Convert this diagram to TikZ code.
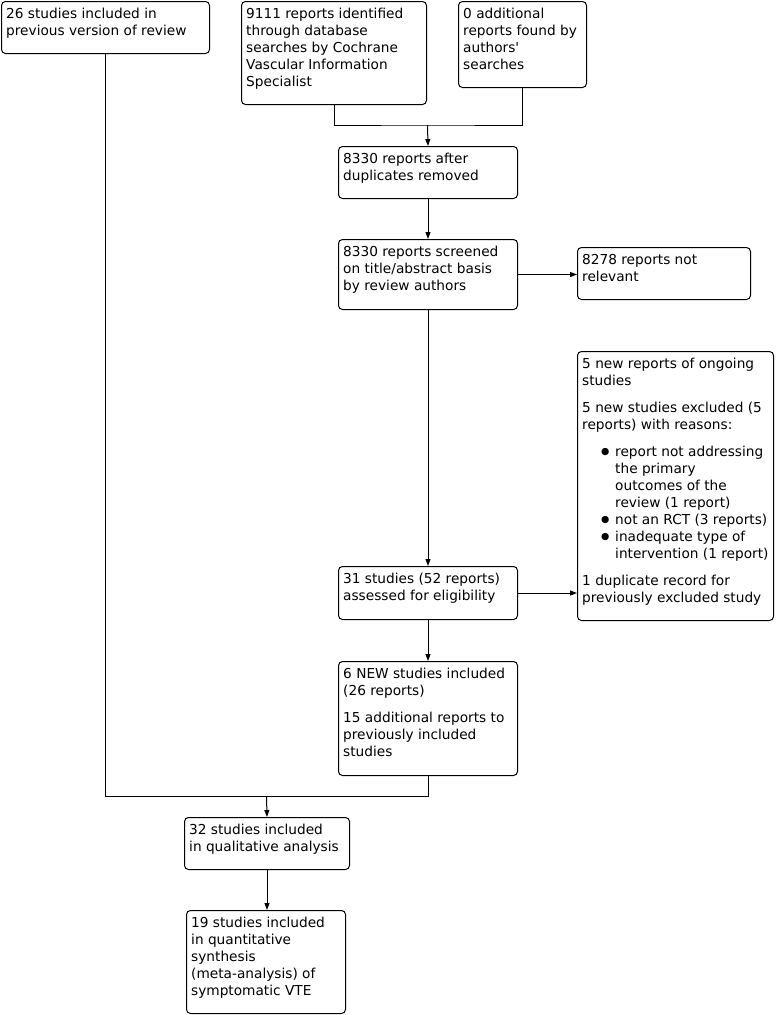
\documentclass[tikz,border=0pt]{standalone}
\usepackage{fontspec}
\setmainfont{DejaVu Sans}
\usetikzlibrary{arrows.meta}
\begin{document}
\begin{tikzpicture}[x=1pt,y=-1pt,
  box/.style={draw, line width=1pt, rounded corners=4pt, anchor=north west, inner sep=0pt},
  sz/.style 2 args={minimum width=#1pt, minimum height=#2pt},
  txt/.style={anchor=north west, inner sep=0pt, align=left, font=\fontsize{13.7}{17}\selectfont},
  arr/.style={line width=1pt, -{Triangle[length=7pt,width=5pt]}},
  ln/.style={line width=1pt}]
\useasboundingbox (0,0) rectangle (776,1015);
\newcommand\fl{\rule{0pt}{12pt}}
\newcommand\bul{\hspace*{19pt}\makebox[14pt][l]{\raisebox{1.8pt}{\fontsize{9.5}{17}\selectfont ●}}}
\newcommand\ind{\hspace*{33pt}}
% boxes
\node[box, sz={208}{52}]  (b1)  at (1,1) {};
\node[box, sz={185}{103}] (b2)  at (241,1) {};
\node[box, sz={128}{86}]  (b3)  at (458,1) {};
\node[box, sz={179}{52}]  (b4)  at (338,146) {};
\node[box, sz={179}{70}]  (b5)  at (338,239) {};
\node[box, sz={173}{52}]  (b6)  at (577,247) {};
\node[box, sz={196}{269}] (b7)  at (577,351) {};
\node[box, sz={179}{53}]  (b8)  at (338,566) {};
\node[box, sz={179}{114}] (b9)  at (338,661) {};
\node[box, sz={165}{52}]  (b10) at (184,817) {};
\node[box, sz={159}{103}] (b11) at (186,910) {};
% texts
\node[txt] (t1) at ([shift={(5,5.5)}]b1.north west) {\fl 26 studies included in\\previous version of review};
\node[txt] (t2) at ([shift={(5,5.5)}]b2.north west) {\fl 9111 reports identified\\through database\\searches by Cochrane\\Vascular Information\\Specialist};
\node[txt] (t3) at ([shift={(5,5.5)}]b3.north west) {\fl 0 additional\\reports found by\\authors\textquotesingle\\searches};
\node[txt] (t4) at ([shift={(5,5.5)}]b4.north west) {\fl 8330 reports after\\duplicates removed};
\node[txt] (t5) at ([shift={(5,5.5)}]b5.north west) {\fl 8330 reports screened\\on title/abstract basis\\by review authors};
\node[txt] (t6) at ([shift={(5,5.5)}]b6.north west) {\fl 8278 reports not\\relevant};
\node[txt] (t7) at ([shift={(5,5.5)}]b7.north west) {\fl 5 new reports of ongoing\\studies\\[10pt]5 new studies excluded (5\\reports) with reasons:\\[10pt]\bul report not addressing\\\ind the primary\\\ind outcomes of the\\\ind review (1 report)\\\bul not an RCT (3 reports)\\\bul inadequate type of\\\ind intervention (1 report)\\[10pt]1 duplicate record for\\previously excluded study};
\node[txt] (t8) at ([shift={(5,5.5)}]b8.north west) {\fl 31 studies (52 reports)\\assessed for eligibility};
\node[txt] (t9) at ([shift={(5,5.5)}]b9.north west) {\fl 6 NEW studies included\\(26 reports)\\[10pt]15 additional reports to\\previously included\\studies};
\node[txt] (t10) at ([shift={(5,5.5)}]b10.north west) {\fl 32 studies included\\in qualitative analysis};
\node[txt] (t11) at ([shift={(5,5.5)}]b11.north west) {\fl 19 studies included\\in quantitative\\synthesis\\(meta-analysis) of\\symptomatic VTE};
% connectors
\coordinate (j1) at (427.5,125);
\coordinate (j2) at (266.5,796);
\draw[ln] (b2.south) |- (j1) -| (b3.south);
\draw[arr] (j1) -- (b4.north);
\draw[arr] (b4.south) -- (b5.north);
\draw[arr] (b5.east) -- (b5.east -| b6.west);
\draw[arr] (b5.south) -- (b8.north);
\draw[arr] (b8.east) -- (b8.east -| b7.west);
\draw[arr] (b8.south) -- (b9.north);
\draw[ln] (b1.south) |- (j2) -| (b9.south);
\draw[arr] (j2) -- (b10.north);
\draw[arr] (b10.south) -- (b10.south |- b11.north);
\end{tikzpicture}
\end{document}
